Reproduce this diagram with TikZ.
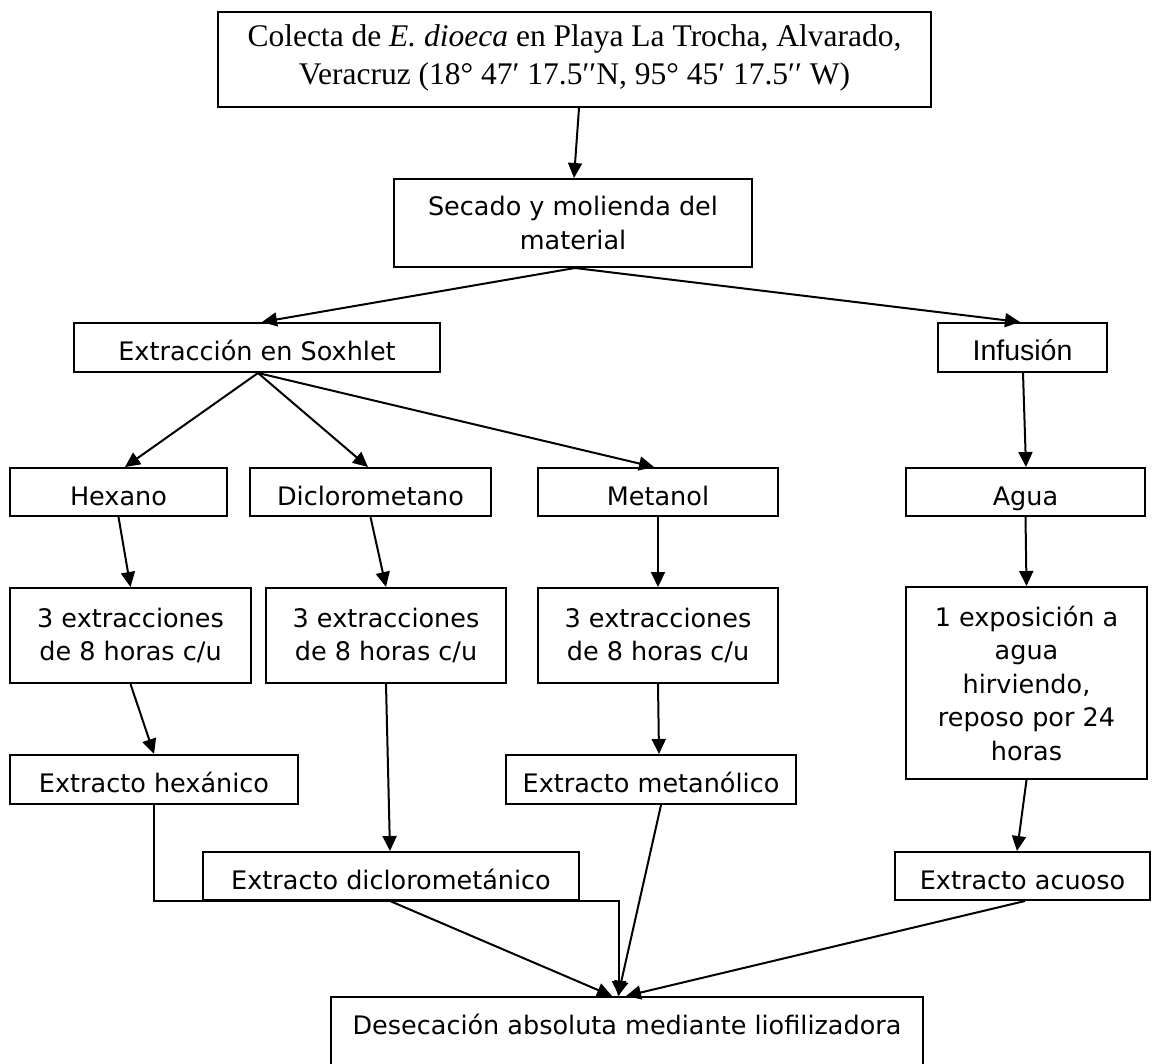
\documentclass[tikz,border=0pt]{standalone}
\usepackage{fontspec}
\setmainfont{Liberation Serif}
\setsansfont{DejaVu Sans}
\newfontfamily\arialfont{Liberation Sans}
\usetikzlibrary{arrows.meta}

\tikzset{
  frame/.style={draw=black, line width=2pt, inner sep=0pt,
    font=\sffamily\fontsize{25.5}{33.5}\selectfont},
  box/.style={frame, align=center},
  single/.style={frame, text height=30pt, text depth=4pt},
  serifbox/.style={box, font=\rmfamily\fontsize{31.5}{38}\selectfont},
  arr/.style={line width=2pt, -{Triangle[length=15pt,width=14pt]}}
}

\begin{document}
\begin{tikzpicture}[x=1pt,y=-1pt]
\useasboundingbox (0,0) rectangle (1159,1063);

% collection and preparation
\node[serifbox, minimum width=713pt, minimum height=95pt] (top) at (574.5,59.5)
  {Colecta de \textit{E. dioeca} en Playa La Trocha, Alvarado,\\
   Veracruz (18° 47′ 17.5′′N, 95° 45′ 17.5′′ W)\rule[-9pt]{0pt}{9pt}};
\node[box, minimum width=358pt, minimum height=88pt] (sec) at (573,223)
  {Secado y molienda del\\material};

% extraction methods
\node[single, minimum width=366pt, minimum height=49pt] (ext) at (257,347.5)
  {Extracción en Soxhlet};
\node[single, minimum width=169pt, minimum height=49pt,
  font=\arialfont\fontsize{28.5}{33}\selectfont] (inf) at (1022.5,347.5)
  {Infusión};

% solvents
\node[single, minimum width=217pt, minimum height=48pt] (hex) at (118.5,492) {Hexano};
\node[single, minimum width=241pt, minimum height=48pt] (dcm) at (370.5,492) {Diclorometano};
\node[single, minimum width=240pt, minimum height=48pt] (met) at (658,492) {Metanol};
\node[single, minimum width=239pt, minimum height=48pt] (agua) at (1025.5,492) {Agua};

% extraction conditions
\node[box, minimum width=241pt, minimum height=95pt] (e1) at (130.5,635.5)
  {3 extracciones\\de 8 horas c/u};
\node[box, minimum width=240pt, minimum height=95pt] (e2) at (386,635.5)
  {3 extracciones\\de 8 horas c/u};
\node[box, minimum width=240pt, minimum height=95pt] (e3) at (658,635.5)
  {3 extracciones\\de 8 horas c/u};
\node[box, minimum width=241pt, minimum height=192pt] (exp) at (1026.5,683)
  {1 exposición a\\agua\\hirviendo,\\reposo por 24\\horas};

% extracts
\node[single, minimum width=288pt, minimum height=49pt] (xhex) at (154,779.5)
  {Extracto hexánico};
\node[single, minimum width=290pt, minimum height=49pt] (xmet) at (651,779.5)
  {Extracto metanólico};
\node[single, minimum width=376pt, minimum height=48pt] (xdcm) at (391,876)
  {Extracto diclorometánico};
\node[single, minimum width=255pt, minimum height=48pt] (xacu) at (1022.5,876)
  {Extracto acuoso};

% final step (its lower edge runs past the page)
\node[box, minimum width=592pt, minimum height=88pt, anchor=north] (des) at (627,996)
  {Desecación absoluta mediante liofilizadora\\\mbox{}};

% connectors
\draw[arr] ([xshift=4.5pt]top.south) -- ([xshift=1pt]sec.north);
\draw[arr] ([xshift=2pt]sec.south) -- ([xshift=5pt]ext.north);
\draw[arr] ([xshift=2pt]sec.south) -- ([xshift=-2.5pt]inf.north);

\draw[arr] ([xshift=1pt]ext.south) -- ([xshift=6.5pt]hex.north);
\draw[arr] ([xshift=1pt]ext.south) -- ([xshift=-2.5pt]dcm.north);
\draw[arr] ([xshift=1pt]ext.south) -- ([xshift=-4pt]met.north);
\draw[arr] ([xshift=0.5pt]inf.south) -- ([xshift=0.5pt]agua.north);

\draw[arr] (hex.south) -- (e1.north);
\draw[arr] (dcm.south) -- (e2.north);
\draw[arr] (met.south) -- (e3.north);
\draw[arr] (agua.south) -- (exp.north);

\draw[arr] (e1.south) -- (xhex.north);
\draw[arr] (e2.south) -- ([xshift=-1pt]xdcm.north);
\draw[arr] (e3.south) -- ([xshift=8pt]xmet.north);
\draw[arr] (exp.south) -- ([xshift=-5.5pt]xacu.north);

\coordinate (dtip) at ([xshift=-8pt]des.north);
\draw[arr] (xhex.south) |- (dtip |- xdcm.south) -- (dtip);
\draw[arr] ([xshift=-1pt]xdcm.south) -- ([xshift=-15pt]des.north);
\draw[arr] ([xshift=10pt]xmet.south) -- ([xshift=-9pt]des.north);
\draw[arr] ([xshift=2.5pt]xacu.south) -- ([xshift=-1pt]des.north);
\end{tikzpicture}
\end{document}
